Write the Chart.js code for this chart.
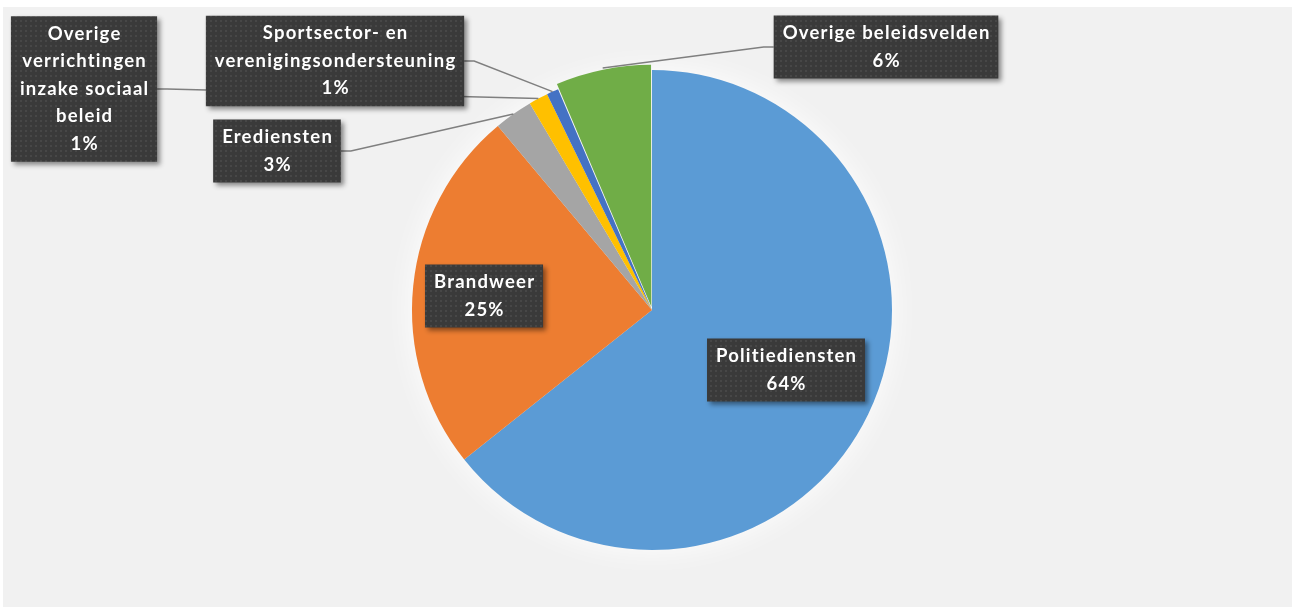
<!DOCTYPE html>
<html>
<head>
<meta charset="utf-8">
<script src="https://cdn.jsdelivr.net/npm/chart.js@4.4.7/dist/chart.umd.min.js"></script>
<style>
  html, body { margin: 0; padding: 0; background: #fff; }
  canvas { display: block; }
</style>
</head>
<body>
<canvas id="chart" width="1292" height="607"></canvas>
<script>
// data (clockwise from 12 o'clock)
const labels = [
  ["Politiediensten"],
  ["Brandweer"],
  ["Erediensten"],
  ["Overige", "verrichtingen", "inzake sociaal", "beleid"],
  ["Sportsector- en", "verenigingsondersteuning"],
  ["Overige beleidsvelden"],
];
const values = [64.3, 24.6, 2.6, 1.3, 0.8, 6.4];
const colors = ["#5B9BD5", "#ED7D31", "#A5A5A5", "#FFC000", "#4472C4", "#70AD47"];
const offsets = [0, 0, 0, 0, 0, 13];

// label box centres, relative to the pie centre (layout only)
const boxPos = [
  [134, 60], [-168, -14], [-375, -159], [-568, -221], [-317, -249], [234, -263],
];
const LINE_H = 27.5;
const FONT = "bold 18.5px Lato";
const SPACING = 1.2;

const makePattern = (ctx) => {
  const c = document.createElement("canvas");
  c.width = 5;
  c.height = 5;
  const p = c.getContext("2d");
  p.fillStyle = "#3a3a3a";
  p.fillRect(0, 0, 5, 5);
  p.fillStyle = "#474747";
  p.fillRect(0, 0, 2, 2);
  return ctx.createPattern(c, "repeat");
};

const backdrop = {
  id: "backdrop",
  beforeDraw(chart) {
    const ctx = chart.ctx;
    ctx.save();
    ctx.fillStyle = "#fff";
    ctx.fillRect(0, 0, chart.width, chart.height);
    ctx.fillStyle = "#f1f1f1";
    ctx.fillRect(3, 7, chart.width - 3, chart.height - 7);
    ctx.restore();
  },
  beforeDatasetsDraw(chart) {
    const arc = chart.getDatasetMeta(0).data[0];
    const ctx = chart.ctx;
    ctx.save();
    ctx.shadowColor = "rgba(255,255,255,0.9)";
    ctx.shadowBlur = 30;
    ctx.fillStyle = "#f6f6f6";
    ctx.beginPath();
    ctx.arc(arc.x, arc.y, arc.outerRadius, 0, Math.PI * 2);
    ctx.fill();
    ctx.restore();
  },
};

const boxLabels = {
  id: "boxLabels",
  afterDatasetsDraw(chart) {
    const ctx = chart.ctx;
    const meta = chart.getDatasetMeta(0);
    const total = values.reduce((a, b) => a + b, 0);
    ctx.save();
    ctx.font = FONT;
    ctx.letterSpacing = SPACING + "px";
    const boxes = meta.data.map((arc, i) => {
      const lines = [...labels[i], Math.round((values[i] / total) * 100) + "%"];
      const w = Math.max(...lines.map((l) => ctx.measureText(l).width)) - SPACING + 18;
      const h = lines.length * LINE_H + 8;
      const cx = arc.x + boxPos[i][0];
      const cy = arc.y + boxPos[i][1];
      return { lines, w, h, cx, cy, arc, i };
    });
    // leader lines
    ctx.strokeStyle = "#7f7f7f";
    ctx.lineWidth = 1.5;
    boxes.forEach(({ w, cx, cy, arc, i }) => {
      const mid = (arc.startAngle + arc.endAngle) / 2;
      const r = arc.outerRadius + offsets[i] - (offsets[i] ? 6 : 0);
      const ax = arc.x + Math.cos(mid) * r;
      const ay = arc.y + Math.sin(mid) * r;
      if (Math.hypot(cx - arc.x, cy - arc.y) < arc.outerRadius) return;
      const side = ax > cx ? 1 : -1;
      const sx = cx + (side * w) / 2;
      ctx.beginPath();
      ctx.moveTo(sx, cy);
      ctx.lineTo(sx + side * 10, cy);
      ctx.lineTo(ax, ay);
      ctx.stroke();
    });
    // boxes
    const pattern = makePattern(ctx);
    boxes.forEach(({ lines, w, h, cx, cy }) => {
      ctx.save();
      ctx.shadowColor = "rgba(0,0,0,0.45)";
      ctx.shadowBlur = 5;
      ctx.shadowOffsetX = 3;
      ctx.shadowOffsetY = 3;
      ctx.fillStyle = pattern;
      ctx.fillRect(cx - w / 2, cy - h / 2, w, h);
      ctx.restore();
      ctx.fillStyle = "#fff";
      ctx.textAlign = "center";
      ctx.textBaseline = "middle";
      lines.forEach((l, k) => {
        ctx.fillText(l, cx + SPACING / 2, cy - ((lines.length - 1) * LINE_H) / 2 + k * LINE_H);
      });
    });
    ctx.restore();
  },
};

new Chart(document.getElementById("chart"), {
  type: "pie",
  data: {
    labels: labels.map((l) => l.join(" ")),
    datasets: [
      {
        data: values,
        backgroundColor: colors,
        borderWidth: 0,
        offset: offsets,
        hoverOffset: 0,
        radius: 240,
      },
    ],
  },
  options: {
    responsive: false,
    animation: false,
    layout: { padding: { top: 40, bottom: 27, left: 112, right: 100 } },
    plugins: {
      legend: { display: false },
      tooltip: { enabled: false },
    },
  },
  plugins: [backdrop, boxLabels],
});
</script>
</body>
</html>
